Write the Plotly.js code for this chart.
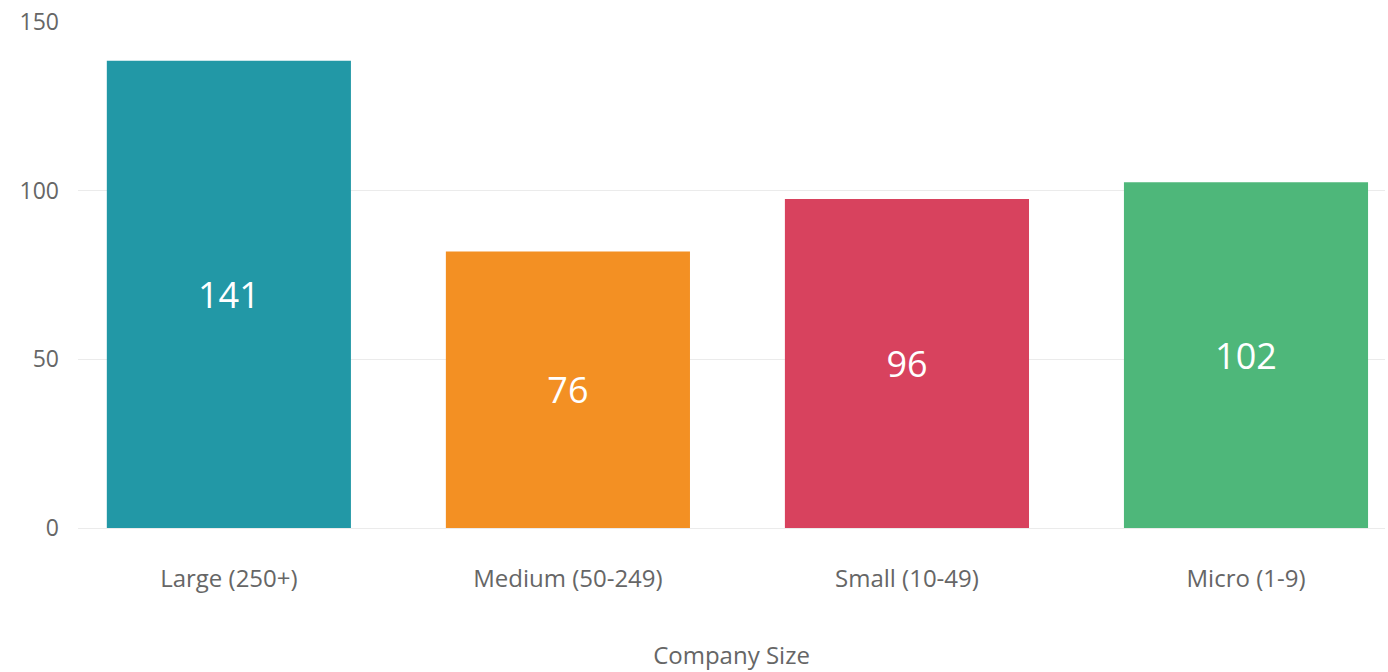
<!DOCTYPE html>
<html>
<head>
<meta charset="utf-8">
<script src="https://cdn.plot.ly/plotly-3.0.1.min.js"></script>
<style>html,body{margin:0;padding:0;background:#fff;}#chart{width:1388px;height:672px;}</style>
</head>
<body>
<div id="chart"></div>
<script>
const categories = ["Large (250+)", "Medium (50-249)", "Small (10-49)", "Micro (1-9)"];
const barHeights = [138.5, 82, 97.5, 102.5];
const barLabels = ["141", "76", "96", "102"];
const barColors = ["#2298a6", "#f39023", "#d8425e", "#4eb77a"];
const yTicks = [0, 50, 100, 150];

const trace = {
  type: "bar",
  x: categories,
  y: barHeights,
  text: barLabels,
  textposition: "inside",
  insidetextanchor: "middle",
  textfont: {family: "Open Sans", size: 36, color: "#ffffff"},
  marker: {color: barColors},
  hoverinfo: "none",
  cliponaxis: false
};

const layout = {
  width: 1388, height: 672,
  margin: {l: 78, r: 3, t: 22, b: 144},
  paper_bgcolor: "#ffffff", plot_bgcolor: "#ffffff",
  font: {family: "Open Sans", color: "#666666"},
  showlegend: false,
  bargap: 0.28,
  xaxis: {
    type: "category",
    range: [-0.445, 3.41],
    showgrid: false, zeroline: false, showline: false,
    ticks: "", ticklabelstandoff: 34,
    tickfont: {family: "Open Sans", size: 24, color: "#666666"},
    title: {text: "Company Size", standoff: 54, font: {family: "Open Sans", size: 24, color: "#666666"}}
  },
  yaxis: {
    range: [0, 150],
    tickvals: yTicks,
    showgrid: true, gridcolor: "#ebebeb", gridwidth: 1,
    zeroline: true, zerolinecolor: "#ebebeb", zerolinewidth: 1,
    showline: false, ticks: "", ticklabelstandoff: 18,
    tickfont: {family: "Open Sans", size: 23, color: "#666666"}
  }
};

Plotly.newPlot("chart", [trace], layout, {displayModeBar: false, staticPlot: true});
</script>
</body>
</html>
